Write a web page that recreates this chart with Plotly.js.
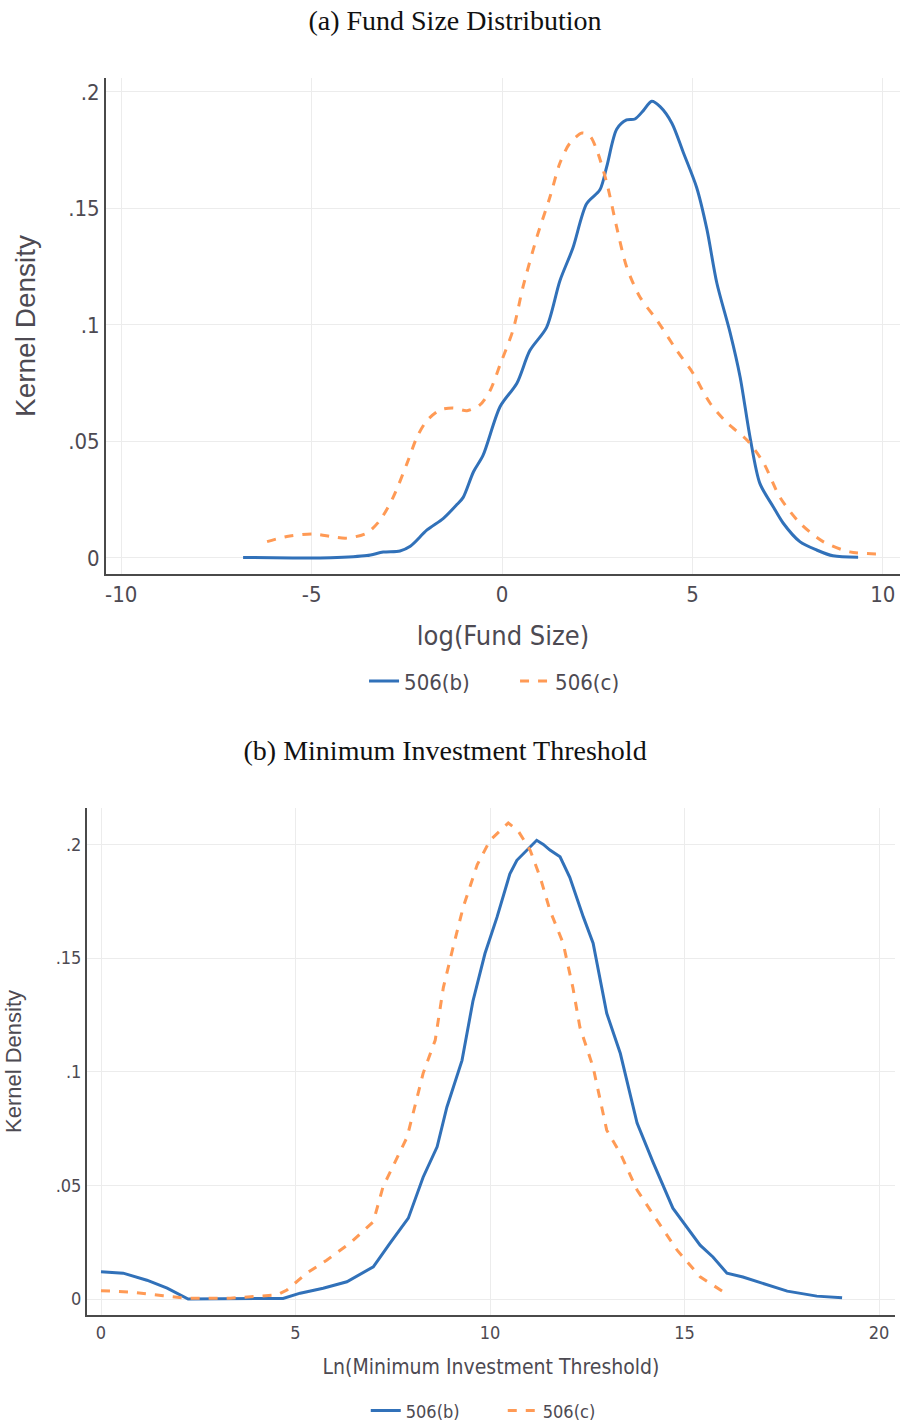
<!DOCTYPE html>
<html>
<head>
<meta charset="utf-8">
<script src="https://cdn.plot.ly/plotly-3.0.1.min.js"></script>
<style>
  html, body { margin: 0; padding: 0; background: #fff; }
  #c1, #c2 { width: 901px; height: 713px; overflow: hidden; }
</style>
</head>
<body>
<div id="c1"></div>
<div id="c2"></div>
<script>
// ---- Panel (a): Fund size distribution ----
const sizeX_b = [-6.8,-5.5,-4.5,-3.55,-3.12,-2.68,-2.41,-1.97,-1.54,-1.18,-1.02,-0.75,-0.5,-0.05,0.39,0.73,1.17,1.52,1.86,2.22,2.57,2.75,3.01,3.27,3.49,3.71,3.93,4.15,4.46,4.76,5.11,5.38,5.64,5.99,6.25,6.51,6.77,7.12,7.38,7.82,8.26,8.69,9.35];
const sizeY_b = [0.0002,0.0,0.0001,0.001,0.0025,0.003,0.005,0.012,0.017,0.023,0.026,0.037,0.044,0.065,0.075,0.089,0.099,0.119,0.133,0.152,0.158,0.168,0.184,0.188,0.1884,0.192,0.196,0.1937,0.1866,0.174,0.159,0.141,0.118,0.0966,0.0778,0.052,0.032,0.022,0.015,0.007,0.0034,0.0009,0.0003];
const sizeX_c = [-6.17,-5.65,-4.96,-4.43,-4.08,-3.55,-3.2,-2.86,-2.49,-2.23,-1.97,-1.63,-1.29,-0.92,-0.58,-0.31,-0.05,0.29,0.55,0.92,1.26,1.52,1.78,2.1,2.31,2.49,2.75,3.01,3.27,3.62,4.07,4.59,5.01,5.46,5.91,6.43,6.86,7.3,7.82,8.43,9.13,9.92];
const sizeY_c = [0.007,0.0092,0.0103,0.009,0.0085,0.0107,0.0163,0.026,0.0408,0.052,0.059,0.0635,0.0644,0.0632,0.0657,0.072,0.083,0.0979,0.1163,0.138,0.155,0.1695,0.178,0.1824,0.181,0.175,0.161,0.142,0.125,0.112,0.102,0.089,0.0794,0.0665,0.058,0.0506,0.041,0.026,0.015,0.007,0.0026,0.0017];

// ---- Panel (b): Minimum investment threshold ----
const minX_b = [0,0.57,1.18,1.7,2.24,3.5,4.68,5.12,5.71,6.32,7.0,7.43,7.9,8.28,8.64,8.89,9.28,9.56,9.87,10.18,10.51,10.69,10.95,11.2,11.37,11.54,11.8,12.05,12.4,12.65,13.0,13.35,13.78,14.2,14.7,15.06,15.4,15.73,16.09,16.5,17.64,18.4,19.05];
const minY_b = [0.012,0.0114,0.0083,0.0048,0.0,0.0,0.0003,0.0026,0.0048,0.0076,0.0142,0.0246,0.0356,0.0536,0.067,0.0844,0.105,0.131,0.152,0.168,0.187,0.193,0.1975,0.2018,0.2,0.1975,0.1945,0.1855,0.168,0.1565,0.1257,0.108,0.0774,0.0598,0.04,0.0317,0.0237,0.0185,0.0114,0.0097,0.0035,0.0013,0.0006];
const minX_c = [0,0.75,1.6,2.2,3.32,4.52,4.78,5.29,5.8,6.4,7.0,7.25,7.87,8.28,8.59,8.8,9.05,9.31,9.67,10.0,10.47,10.72,11.03,11.29,11.54,11.88,12.13,12.31,12.65,13.0,13.35,13.78,14.29,14.81,15.4,16.12];
const minY_c = [0.0037,0.0031,0.0015,0.0004,0.0004,0.0018,0.004,0.0114,0.0171,0.0246,0.034,0.0494,0.0713,0.0993,0.1138,0.137,0.1547,0.1723,0.191,0.2018,0.2094,0.206,0.1975,0.1855,0.171,0.1565,0.137,0.1196,0.102,0.0743,0.064,0.048,0.0347,0.0215,0.0098,0.0018];

// ---- Labels ----
const seriesNames = ['506(b)', '506(c)'];
const yTickVals = [0, 0.05, 0.1, 0.15, 0.2];
const yTickText = ['0', '.05', '.1', '.15', '.2'];
const xTicksA = [-10, -5, 0, 5, 10];
const xTicksB = [0, 5, 10, 15, 20];

const BLUE = '#3171b9';
const ORANGE = '#ff9a55';
const TXT = '#4d4a52';
const NARROW = '"Liberation Sans Narrow", "DejaVu Sans Condensed", "Arial Narrow", sans-serif';
const SANS = '"Liberation Sans", Arial, sans-serif';
const SERIF = '"Liberation Serif", "DejaVu Serif", serif';

function axisBase() {
  return {
    showline: true, linecolor: '#4a4a4a', linewidth: 2, mirror: false,
    showgrid: true, gridcolor: '#ececec', gridwidth: 1,
    zeroline: false, ticks: '', automargin: false
  };
}

// Panel (a)
const tracesA = [
  { x: sizeX_b, y: sizeY_b, type: 'scatter', mode: 'lines', name: seriesNames[0],
    line: { color: BLUE, width: 3, shape: 'spline', smoothing: 0.8 } },
  { x: sizeX_c, y: sizeY_c, type: 'scatter', mode: 'lines', name: seriesNames[1],
    line: { color: ORANGE, width: 3, dash: 'dash', shape: 'spline', smoothing: 0.8 } }
];
const layoutA = {
  width: 901, height: 713,
  margin: { l: 106, r: 1, t: 78, b: 139, autoexpand: false },
  paper_bgcolor: '#fff', plot_bgcolor: '#fff',
  title: { text: '(a) Fund Size Distribution', font: { family: SERIF, size: 28, color: '#111' },
           x: 0.505, xref: 'container', xanchor: 'center', y: 1 - 20/713, yref: 'container', yanchor: 'middle' },
  xaxis: Object.assign(axisBase(), {
    range: [-10.4, 10.45], tickvals: xTicksA, ticktext: xTicksA.map(String),
    tickfont: { family: NARROW, size: 22, color: TXT },
    title: { text: 'log(Fund Size)', font: { family: NARROW, size: 27, color: TXT }, standoff: 20 }
  }),
  yaxis: Object.assign(axisBase(), {
    range: [-0.0069, 0.206], tickvals: yTickVals, ticktext: yTickText,
    tickfont: { family: NARROW, size: 22, color: TXT },
    title: { text: 'Kernel Density', font: { family: SANS, size: 28, color: TXT }, standoff: 24 }
  }),
  showlegend: true,
  legend: { orientation: 'h', x: 0.325, xanchor: 'left', y: -0.216, yanchor: 'middle',
            entrywidth: 106, entrywidthmode: 'pixels',
            font: { family: NARROW, size: 22, color: TXT }, bgcolor: 'rgba(0,0,0,0)' }
};

// Panel (b)
const tracesB = [
  { x: minX_b, y: minY_b, type: 'scatter', mode: 'lines', name: seriesNames[0],
    line: { color: BLUE, width: 3 } },
  { x: minX_c, y: minY_c, type: 'scatter', mode: 'lines', name: seriesNames[1],
    line: { color: ORANGE, width: 3, dash: 'dash' } }
];
const layoutB = {
  width: 901, height: 713,
  margin: { l: 87, r: 6, t: 95, b: 111, autoexpand: false },
  paper_bgcolor: '#fff', plot_bgcolor: '#fff',
  title: { text: '(b) Minimum Investment Threshold', font: { family: SERIF, size: 28, color: '#111' },
           x: 0.494, xref: 'container', xanchor: 'center', y: 1 - 37/713, yref: 'container', yanchor: 'middle' },
  xaxis: Object.assign(axisBase(), {
    range: [-0.36, 20.41], tickvals: xTicksB, ticktext: xTicksB.map(String),
    tickfont: { family: NARROW, size: 18, color: TXT },
    title: { text: 'Ln(Minimum Investment Threshold)', font: { family: NARROW, size: 21, color: TXT }, standoff: 18 }
  }),
  yaxis: Object.assign(axisBase(), {
    range: [-0.007, 0.216], tickvals: yTickVals, ticktext: yTickText,
    tickfont: { family: NARROW, size: 18, color: TXT },
    title: { text: 'Kernel Density', font: { family: SANS, size: 22, color: TXT }, standoff: 28 }
  }),
  showlegend: true,
  legend: { orientation: 'h', x: 0.345, xanchor: 'left', y: -0.189, yanchor: 'middle',
            entrywidth: 92, entrywidthmode: 'pixels',
            font: { family: NARROW, size: 18, color: TXT }, bgcolor: 'rgba(0,0,0,0)' }
};

Plotly.newPlot('c1', tracesA, layoutA, { staticPlot: true, displayModeBar: false });
Plotly.newPlot('c2', tracesB, layoutB, { staticPlot: true, displayModeBar: false });
</script>
</body>
</html>
